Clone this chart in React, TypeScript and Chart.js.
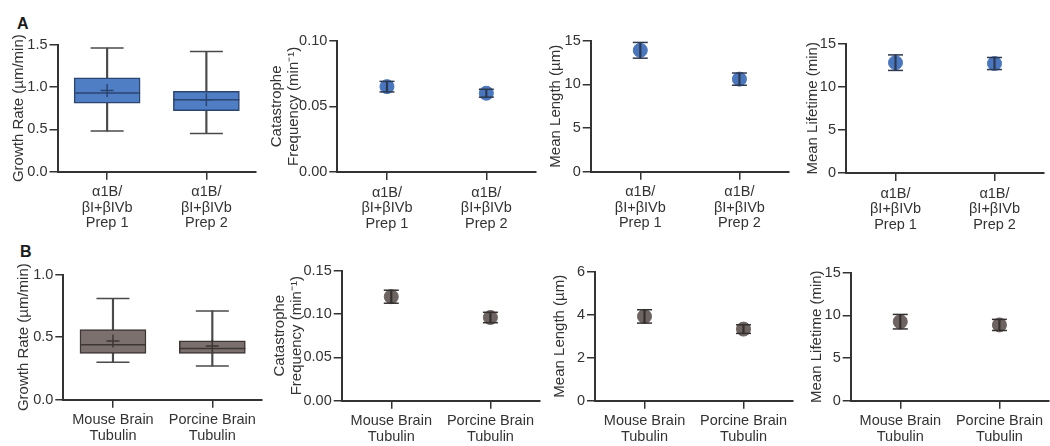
import React, { useEffect, useRef } from "react";
import { Chart, registerables } from "chart.js";
Chart.register(...registerables);

const FONT = '"Liberation Sans", Arial, Helvetica, sans-serif';
const TEXT = "#333333";
const AXIS = "#333333";

// ---- categories ----
const prepLabels = [["α1B/", "βI+βIVb", "Prep 1"], ["α1B/", "βI+βIVb", "Prep 2"]];
const brainLabels = [["Mouse Brain", "Tubulin"], ["Porcine Brain", "Tubulin"]];

// ---- A: growth rate box plots (µm/min) ----
const growthAMin = [0.48, 0.45];
const growthAQ1 = [0.81, 0.72];
const growthAMedian = [0.93, 0.85];
const growthAQ3 = [1.11, 0.95];
const growthAMax = [1.46, 1.42];
const growthAMean = [0.96, 0.85];

// ---- A: mean ± error ----
const catastropheAMean = [0.065, 0.060];
const catastropheAErr = [0.004, 0.003];
const lengthAMean = [13.9, 10.6];
const lengthAErr = [0.9, 0.7];
const lifetimeAMean = [12.8, 12.7];
const lifetimeAErr = [0.9, 0.7];

// ---- B: growth rate box plots (µm/min) ----
const growthBMin = [0.30, 0.27];
const growthBQ1 = [0.37, 0.37];
const growthBMedian = [0.44, 0.41];
const growthBQ3 = [0.56, 0.47];
const growthBMax = [0.81, 0.71];
const growthBMean = [0.47, 0.43];

// ---- B: mean ± error ----
const catastropheBMean = [0.120, 0.096];
const catastropheBErr = [0.0075, 0.006];
const lengthBMean = [3.92, 3.33];
const lengthBErr = [0.31, 0.2];
const lifetimeBMean = [9.26, 8.88];
const lifetimeBErr = [0.85, 0.65];

// ---- axis settings ----
const yMaxA = [1.5, 0.1, 15, 15];
const yStepA = [0.5, 0.05, 5, 5];
const yMaxB = [1.0, 0.15, 6, 15];
const yStepB = [0.5, 0.05, 2, 5];

const BLUE = { fill: "#4f7ec4", edge: "#2b4470", marker: "#4a76bd", bar: "#2c3850" };
const GRAY = { fill: "#7b706d", edge: "#3d3634", marker: "#6d6361", bar: "#353030" };

const TITLE_LH = 17;
const PLOT_W = 198;

function yScale(max: number, step: number, dec: number, title: any, width: number) {
  return {
    min: 0,
    max,
    afterFit: (s: any) => { s.width = width; },
    ticks: {
      stepSize: step,
      color: TEXT,
      font: { family: FONT, size: 14.5 },
      padding: 2,
      callback: (v: any) => Number(v).toFixed(dec),
    },
    grid: { drawOnChartArea: false, drawTicks: true, tickLength: 8, color: AXIS, lineWidth: 1.5 },
    border: { display: true, color: AXIS, width: 2 },
    title: {
      display: true,
      text: title,
      color: TEXT,
      font: { family: FONT, size: 15, lineHeight: TITLE_LH / 15 },
      padding: 0,
    },
  };
}

function xScale(height: number) {
  return {
    type: "category",
    offset: true,
    afterFit: (s: any) => { s.height = height; },
    ticks: {
      color: TEXT,
      font: { family: FONT, size: 14.5, lineHeight: 1.07 },
      padding: 5,
      autoSkip: false,
      maxRotation: 0,
      minRotation: 0,
    },
    grid: { offset: false, drawOnChartArea: false, drawTicks: true, tickLength: 8, color: AXIS, lineWidth: 1.5 },
    border: { display: true, color: AXIS, width: 2 },
  };
}

function baseOptions(padTop: number, x: any, y: any) {
  return {
    responsive: false,
    animation: false,
    devicePixelRatio: 1,
    events: [],
    layout: { autoPadding: false, padding: { top: padTop, right: 4, left: 0, bottom: 0 } },
    plugins: { legend: { display: false }, tooltip: { enabled: false } },
    scales: { x, y },
  };
}

function boxConfig(labels: any, mins: number[], q1: number[], med: number[], q3: number[], maxs: number[], means: number[], col: any, padTop: number, x: any, y: any) {
  const capLine = (data: number[], order: number) => ({
    type: "line", data, showLine: false, pointStyle: "line", pointRadius: 16.5,
    pointBorderWidth: 1.5, pointBorderColor: "#4a4a4a", order, clip: false,
  });
  return {
    type: "bar",
    data: {
      labels,
      datasets: [
        { type: "bar", data: mins.map((m, i) => [m, maxs[i]]), barThickness: 1.5, backgroundColor: "#4a4a4a", borderWidth: 0, grouped: false, order: 6 },
        { type: "bar", data: q1.map((m, i) => [m, q3[i]]), barThickness: 66, backgroundColor: col.fill, borderColor: col.edge, borderWidth: 1.5, borderSkipped: false, grouped: false, order: 5 },
        { type: "line", data: med, showLine: false, pointStyle: "line", pointRadius: 33, pointBorderWidth: 1.5, pointBorderColor: col.edge, order: 4 },
        { type: "line", data: means, showLine: false, pointStyle: "cross", pointRadius: 6.5, pointBorderWidth: 1.5, pointBorderColor: col.edge, order: 3 },
        capLine(mins, 2),
        capLine(maxs, 1),
      ],
    },
    options: baseOptions(padTop, x, y),
  };
}

function errConfig(labels: any, means: number[], errs: number[], col: any, padTop: number, x: any, y: any) {
  const lo = means.map((m, i) => m - errs[i]);
  const hi = means.map((m, i) => m + errs[i]);
  const cap = (data: number[], order: number) => ({
    type: "line", data, showLine: false, pointStyle: "line", pointRadius: 7.5,
    pointBorderWidth: 1.5, pointBorderColor: col.bar, order, clip: false,
  });
  return {
    type: "bar",
    data: {
      labels,
      datasets: [
        { type: "line", data: means, showLine: false, pointStyle: "circle", pointRadius: 7, pointBackgroundColor: col.marker, pointBorderColor: col.marker, pointBorderWidth: 1, order: 4 },
        { type: "bar", data: lo.map((l, i) => [l, hi[i]]), barThickness: 1.5, backgroundColor: col.bar, borderWidth: 0, grouped: false, order: 3 },
        cap(lo, 2),
        cap(hi, 1),
      ],
    },
    options: baseOptions(padTop, x, y),
  };
}

// layout geometry: axis x, plot top, plot bottom, first title line centre, canvas bottom
type Geo = { ax: number; top: number; bottom: number; tc: number; limit: number };

function makeSpec(geo: Geo, build: (padTop: number, x: any, yw: number) => any) {
  const left = Math.round(geo.tc - TITLE_LH / 2);
  const yw = geo.ax - left;
  const canvasTop = Math.round(geo.top) - 10;
  const padTop = geo.top - canvasTop;
  const w = Math.ceil(yw + PLOT_W + 4);
  const h = geo.limit - canvasTop;
  const xh = h - (geo.bottom - canvasTop);
  return { left, top: canvasTop, w, h, config: () => build(padTop, xScale(xh), yw) };
}

const specs = [
  makeSpec({ ax: 57.5, top: 44.3, bottom: 171.7, tc: 18.3, limit: 231 }, (p, x, yw) =>
    boxConfig(prepLabels, growthAMin, growthAQ1, growthAMedian, growthAQ3, growthAMax, growthAMean, BLUE, p, x,
      yScale(yMaxA[0], yStepA[0], 1, "Growth Rate (µm/min)", yw))),
  makeSpec({ ax: 337.3, top: 40, bottom: 172, tc: 276.5, limit: 231 }, (p, x, yw) =>
    errConfig(prepLabels, catastropheAMean, catastropheAErr, BLUE, p, x,
      yScale(yMaxA[1], yStepA[1], 2, ["Catastrophe", "Frequency (min⁻¹)"], yw))),
  makeSpec({ ax: 590.7, top: 40, bottom: 171.7, tc: 555.5, limit: 231 }, (p, x, yw) =>
    errConfig(prepLabels, lengthAMean, lengthAErr, BLUE, p, x,
      yScale(yMaxA[2], yStepA[2], 0, "Mean Length (µm)", yw))),
  makeSpec({ ax: 846, top: 42.7, bottom: 173, tc: 812, limit: 231 }, (p, x, yw) =>
    errConfig(prepLabels, lifetimeAMean, lifetimeAErr, BLUE, p, x,
      yScale(yMaxA[3], yStepA[3], 0, "Mean Lifetime (min)", yw))),
  makeSpec({ ax: 63.3, top: 273.7, bottom: 399.7, tc: 23, limit: 446 }, (p, x, yw) =>
    boxConfig(brainLabels, growthBMin, growthBQ1, growthBMedian, growthBQ3, growthBMax, growthBMean, GRAY, p, x,
      yScale(yMaxB[0], yStepB[0], 1, "Growth Rate (µm/min)", yw))),
  makeSpec({ ax: 341.7, top: 270, bottom: 400.7, tc: 279.5, limit: 446 }, (p, x, yw) =>
    errConfig(brainLabels, catastropheBMean, catastropheBErr, GRAY, p, x,
      yScale(yMaxB[1], yStepB[1], 2, ["Catastrophe", "Frequency (min⁻¹)"], yw))),
  makeSpec({ ax: 595, top: 271, bottom: 400.7, tc: 559, limit: 446 }, (p, x, yw) =>
    errConfig(brainLabels, lengthBMean, lengthBErr, GRAY, p, x,
      yScale(yMaxB[2], yStepB[2], 0, "Mean Length (µm)", yw))),
  makeSpec({ ax: 850.7, top: 272, bottom: 400.7, tc: 816, limit: 446 }, (p, x, yw) =>
    errConfig(brainLabels, lifetimeBMean, lifetimeBErr, GRAY, p, x,
      yScale(yMaxB[3], yStepB[3], 0, "Mean Lifetime (min)", yw))),
];

function Panel({ spec }: { spec: any }) {
  const ref = useRef<HTMLCanvasElement | null>(null);
  useEffect(() => {
    const chart = new Chart(ref.current as HTMLCanvasElement, spec.config());
    return () => chart.destroy();
  }, []);
  return (
    <canvas
      ref={ref}
      width={spec.w}
      height={spec.h}
      style={{ position: "absolute", left: spec.left, top: spec.top, width: spec.w, height: spec.h }}
    />
  );
}

const panelLetter: React.CSSProperties = {
  position: "absolute",
  fontFamily: FONT,
  fontWeight: "bold",
  fontSize: 16,
  lineHeight: "16px",
  color: "#1a1a1a",
};

export default function App() {
  return (
    <div style={{ position: "absolute", left: 0, top: 0, width: 1050, height: 446, background: "#ffffff", overflow: "hidden" }}>
      <div style={{ ...panelLetter, left: 17, top: 16 }}>A</div>
      <div style={{ ...panelLetter, left: 20, top: 244 }}>B</div>
      {specs.map((s, i) => (
        <Panel key={i} spec={s} />
      ))}
    </div>
  );
}
